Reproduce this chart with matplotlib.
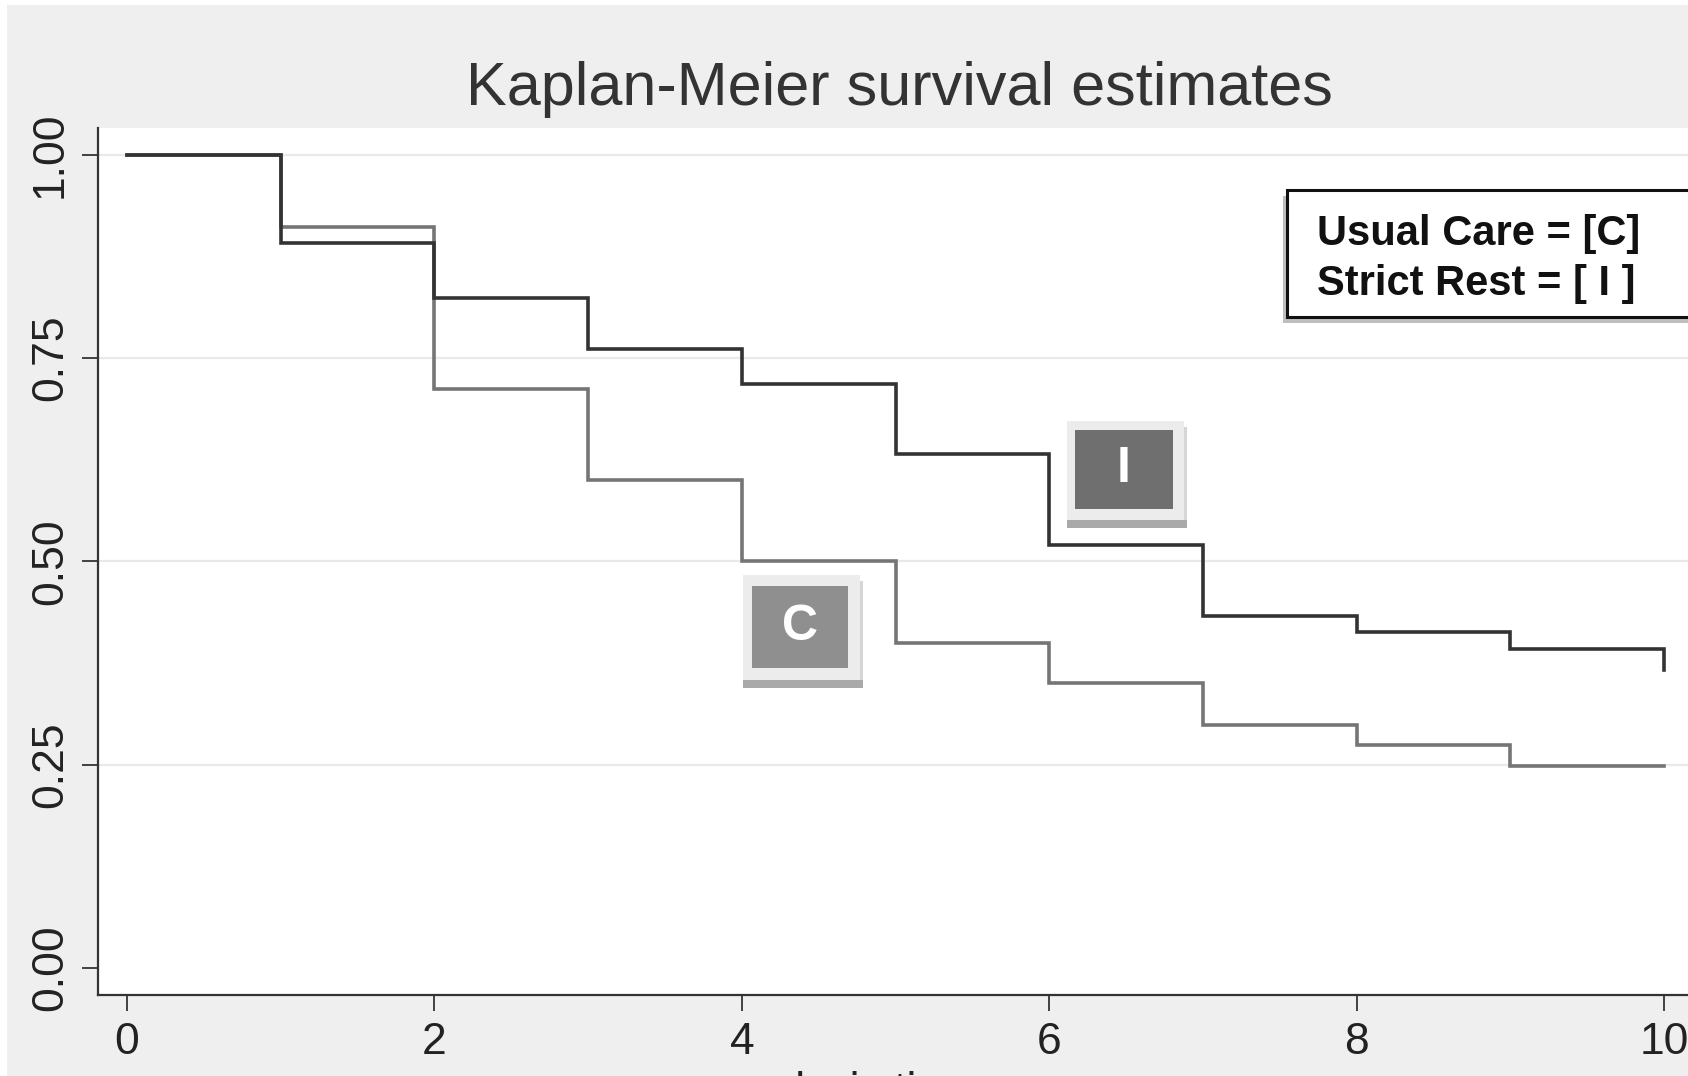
import matplotlib
matplotlib.use("Agg")
import matplotlib.pyplot as plt
from matplotlib.patches import Rectangle

# ---- data ----
times = [0, 1, 2, 3, 4, 5, 6, 7, 8, 9, 10]
surv_usual_care = [1.000, 0.911, 0.712, 0.600, 0.500, 0.399, 0.350, 0.299, 0.274, 0.248, 0.248]
surv_strict_rest = [1.000, 0.892, 0.824, 0.761, 0.718, 0.632, 0.520, 0.433, 0.413, 0.392, 0.366]
x_ticks = [0, 2, 4, 6, 8, 10]
y_ticks = [0.00, 0.25, 0.50, 0.75, 1.00]
y_tick_labels = ["0.00", "0.25", "0.50", "0.75", "1.00"]
title = "Kaplan-Meier survival estimates"
x_label = "analysis time"
legend_lines = ["Usual Care = [C]", "Strict Rest = [ I ]"]

# ---- figure ----
W, H = 1688, 1076
DPI = 100
plt.rcParams['font.family'] = ['Liberation Sans', 'DejaVu Sans']
fig = plt.figure(figsize=(W / DPI, H / DPI), dpi=DPI, facecolor='white')

def fx(x):
    return x / W

def fy(y):
    return 1 - y / H

# outer gray background (thin white margin at top/left)
fig.add_artist(Rectangle((fx(7), 0), 1, fy(5), transform=fig.transFigure,
                         facecolor='#efefef', edgecolor='none', zorder=-10))

# axes: left spine at 98px, bottom at 995px, top 128px, extends beyond right edge
ax_l, ax_r, ax_t, ax_b = 98, 1720, 128, 995
ax = fig.add_axes([fx(ax_l), fy(ax_b), (ax_r - ax_l) / W, (ax_b - ax_t) / H])
ax.set_facecolor('white')
ax.set_zorder(1)

ax.set_xlim(-0.1887, 10.364)
ax.set_ylim(-0.0336, 1.0332)

for yv in [0.25, 0.5, 0.75, 1.0]:
    ax.axhline(yv, color='#e9e9e9', lw=1.6, zorder=1)

ax.step(times, surv_usual_care, where='post', color='#757575', lw=2.6,
        solid_joinstyle='miter', zorder=3)
ax.step(times, surv_strict_rest, where='post', color='#333333', lw=2.6,
        solid_joinstyle='miter', zorder=4)

for s in ['top', 'right']:
    ax.spines[s].set_visible(False)
for s in ['left', 'bottom']:
    ax.spines[s].set_color('#333333')
    ax.spines[s].set_linewidth(1.6)

ax.set_xticks(x_ticks)
ax.set_xticklabels([str(t) for t in x_ticks])
ax.set_yticks(y_ticks)
ax.set_yticklabels(y_tick_labels, rotation=90, va='center')
ax.tick_params(axis='both', direction='out', length=11.5, width=1.3,
               color='#333333', labelsize=32, labelcolor='#222222', pad=8)

# title and cut-off x label
fig.text(fx(899), fy(105), title, ha='center', va='baseline', fontsize=44,
         color='#333333')
fig.text(fx(850), fy(1103), x_label, ha='center', va='baseline', fontsize=32,
         color='#222222')

# legend box (cut off at right)
def rect(x0, y0, x1, y1, **kw):
    r = Rectangle((fx(x0), fy(y1)), (x1 - x0) / W, (y1 - y0) / H,
                  transform=fig.transFigure, **kw)
    fig.add_artist(r)
    return r

rect(1283, 196, 1730, 323, facecolor='#8a8a8a', edgecolor='none', alpha=0.55, zorder=5)
rect(1287, 190, 1730, 317, facecolor='white', edgecolor='#111111', lw=2.2, zorder=6)
fig.text(fx(1317), fy(245), legend_lines[0], ha='left', va='baseline',
         fontsize=30, fontweight='bold', color='#111111', zorder=7)
fig.text(fx(1317), fy(295), legend_lines[1], ha='left', va='baseline',
         fontsize=30, fontweight='bold', color='#111111', zorder=7)

# curve label boxes
def label_box(outer, inner, letter, inner_color):
    x0, y0, x1, y1 = outer
    rect(x0, y1, x1 + 3, y1 + 8, facecolor='#a9a9a9', edgecolor='none', zorder=5)
    rect(x1, y0 + 6, x1 + 3, y1, facecolor='#d6d6d6', edgecolor='none', zorder=5)
    rect(x0, y0, x1, y1, facecolor='#ececec', edgecolor='none', zorder=6)
    ix0, iy0, ix1, iy1 = inner
    rect(ix0, iy0, ix1, iy1, facecolor=inner_color, edgecolor='none', zorder=7)
    fig.text(fx((ix0 + ix1) / 2), fy((iy0 + iy1) / 2), letter, ha='center',
             va='center', fontsize=36, fontweight='bold', color='white', zorder=8)

label_box((743, 575, 860, 680), (752, 586, 848, 668), "C", '#8f8f8f')
label_box((1067, 421, 1184, 520), (1075, 430, 1173, 509), "I", '#6f6f6f')

fig.savefig("out.png", dpi=DPI, facecolor=fig.get_facecolor())
